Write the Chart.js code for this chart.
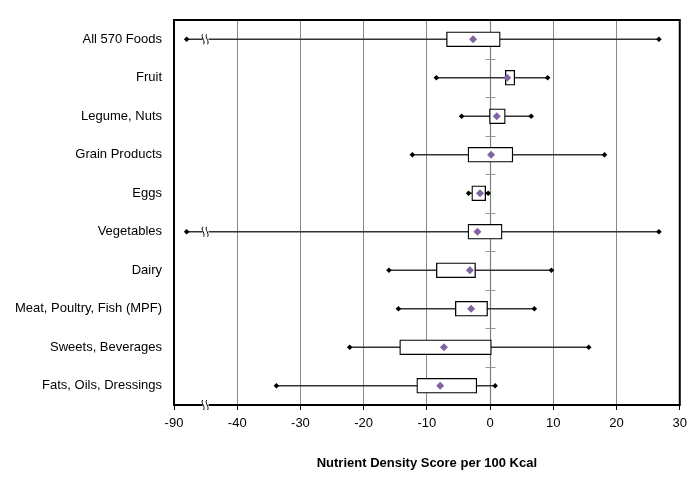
<!DOCTYPE html>
<html>
<head>
<meta charset="utf-8">
<script src="https://cdn.jsdelivr.net/npm/chart.js@4.4.0/dist/chart.umd.min.js"></script>
<style>
  body { margin:0; background:#fff; }
  #wrap { width:693px; height:481px; }
</style>
</head>
<body>
<div id="wrap"><canvas id="chart" width="693" height="481"></canvas></div>
<script>
const categories = ['All 570 Foods','Fruit','Legume, Nuts','Grain Products','Eggs','Vegetables','Dairy','Meat, Poultry, Fish (MPF)','Sweets, Beverages','Fats, Oils, Dressings'];
const minVals  = [-88, -8.5, -4.5, -12.3, -3.4, -88, -16.0, -14.5, -22.2, -33.8];
const q1Vals   = [-6.9, 2.4, -0.1, -3.5, -2.9, -3.5, -8.5, -5.5, -14.3, -11.6];
const q3Vals   = [1.6, 3.9, 2.4, 3.6, -0.7, 1.9, -2.3, -0.4, 0.2, -2.1];
const maxVals  = [26.7, 9.1, 6.5, 18.1, -0.3, 26.7, 9.7, 7.0, 15.6, 0.8];
const meanVals = [-2.7, 2.7, 1.05, 0.15, -1.6, -2.0, -3.2, -3.0, -7.3, -7.9];
const xTickLabels = ['-90','-40','-30','-20','-10','0','10','20','30'];

// axis is broken: -90..-50 squeezed into the first 10 units
const BREAK = -45;
const toAxis = v => v < BREAK ? v + 40 : v;

const FONT = '"Liberation Sans", Arial, sans-serif';

const extras = {
  id: 'extras',
  beforeDatasetsDraw(chart){
    // zero line with category separators
    const ctx = chart.ctx, a = chart.chartArea, x = chart.scales.x, y = chart.scales.y;
    const x0 = Math.round(x.getPixelForValue(0)) + 0.5;
    ctx.save();
    ctx.strokeStyle = '#808080';
    ctx.lineWidth = 1.2;
    ctx.beginPath(); ctx.moveTo(x0, a.top); ctx.lineTo(x0, a.bottom); ctx.stroke();
    const step = y.getPixelForValue(1) - y.getPixelForValue(0);
    ctx.strokeStyle = '#999';
    ctx.lineWidth = 1;
    for(let i=0;i<categories.length;i++){
      const yy = Math.round(y.getPixelForValue(i) - step/2) + 0.5;
      ctx.beginPath(); ctx.moveTo(x0-5, yy); ctx.lineTo(x0+5, yy); ctx.stroke();
    }
    ctx.restore();
  },
  afterDraw(chart){
    const ctx = chart.ctx, a = chart.chartArea, x = chart.scales.x, y = chart.scales.y;
    ctx.save();
    ctx.strokeStyle = '#000';
    ctx.lineWidth = 2;
    ctx.strokeRect(a.left, a.top, a.right-a.left, a.bottom-a.top);
    // break marks
    const bx = x.getPixelForValue(BREAK);
    const rows = [];
    minVals.forEach((v,i)=>{ if(v < BREAK) rows.push(y.getPixelForValue(i)); });
    rows.push(a.bottom);
    ctx.lineWidth = 1;
    rows.forEach(yy=>{
      ctx.fillStyle = '#fff';
      ctx.fillRect(bx-3, yy-2, 6, 4);
      [bx-3, bx+1].forEach(cx=>{
        ctx.beginPath();
        ctx.moveTo(cx, yy-5);
        ctx.bezierCurveTo(cx-2, yy-2, cx+3, yy+2, cx+1, yy+5);
        ctx.strokeStyle = '#000';
        ctx.stroke();
      });
    });
    ctx.restore();
  }
};

new Chart(document.getElementById('chart'), {
  type: 'bar',
  data: {
    labels: categories,
    datasets: [
      {
        type:'bar', indexAxis:'y', grouped:false, order:4,
        data: categories.map((c,i)=>[toAxis(minVals[i]), toAxis(maxVals[i])]),
        backgroundColor:'#333', borderWidth:0, barThickness:1
      },
      {
        type:'bar', indexAxis:'y', grouped:false, order:3,
        data: categories.map((c,i)=>[q1Vals[i], q3Vals[i]]),
        backgroundColor:'#fff', borderColor:'#000', borderWidth:1.3, borderSkipped:false, barThickness:15
      },
      {
        type:'scatter', order:2,
        data: categories.flatMap((c,i)=>[{x:toAxis(minVals[i]), y:c},{x:toAxis(maxVals[i]), y:c}]),
        pointStyle:'rectRot', pointRadius:2.8, backgroundColor:'#000', borderColor:'#000', borderWidth:0
      },
      {
        type:'scatter', order:1,
        data: categories.map((c,i)=>({x:meanVals[i], y:c})),
        pointStyle:'rectRot', pointRadius:4, backgroundColor:'#8064A2', borderColor:'#8064A2', borderWidth:0
      }
    ]
  },
  options: {
    indexAxis:'y',
    responsive:false,
    animation:false,
    layout:{ padding:{ top:20, right:12, left:0, bottom:0 } },
    plugins:{ legend:{display:false}, tooltip:{enabled:false} },
    scales:{
      x:{
        type:'linear', min:-50, max:30,
        ticks:{ stepSize:10, color:'#000', font:{family:FONT, size:13}, padding:6,
          callback:(v,i)=>xTickLabels[i] },
        grid:{ color:'#888', tickColor:'#000', tickLength:5, lineWidth:1 },
        border:{ display:false },
        title:{ display:true, text:'Nutrient Density Score per 100 Kcal', color:'#000',
          font:{family:FONT, size:13, weight:'bold'}, padding:{top:20, bottom:10} },
        afterFit:s=>{ s.height = 76; }
      },
      y:{
        type:'category',
        ticks:{ color:'#000', font:{family:FONT, size:13}, padding:4 },
        grid:{ display:false },
        border:{ display:false },
        afterFit:s=>{ s.width = 174; }
      }
    }
  },
  plugins:[extras]
});
</script>
</body>
</html>
